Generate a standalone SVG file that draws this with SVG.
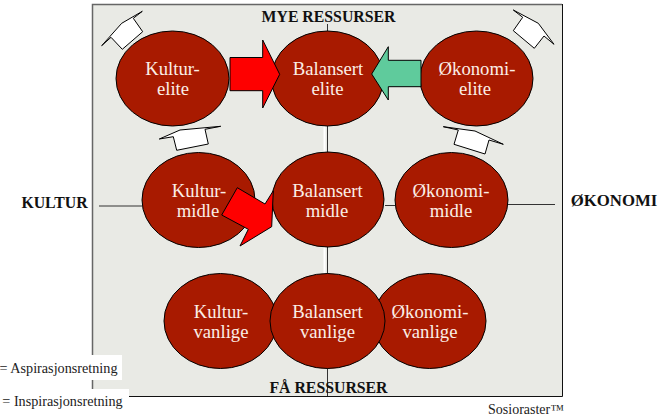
<svg xmlns="http://www.w3.org/2000/svg" width="666" height="419" viewBox="0 0 666 419">
<style>
text{font-family:"Liberation Serif","DejaVu Serif",serif;text-anchor:middle}
.n ellipse{fill:#a81a00;stroke:#000;stroke-width:1}
.n text{fill:#fbeee6;font-size:18.700px}
.c{fill:#fff;stroke:#000;stroke-width:1}
.l{stroke:#333;stroke-width:1;fill:none}
.h{font-weight:bold;font-size:15.800px;fill:#111}
.w{font-weight:bold;font-size:16.800px;fill:#111}
.s{font-size:14.200px;fill:#222}
</style>
<rect width="666" height="419" fill="#fff"/>
<rect x="92.500" y="4.500" width="470" height="392" fill="#e9eae5"/>
<path d="M92.500 396V4.500H562" fill="none" stroke="#666" stroke-width="1.500"/>
<path d="M562.500 4V396.500H92" fill="none" stroke="#111" stroke-width="1"/>
<g id="connectors">
<rect x="323.500" y="126" width="2" height="27" fill="#fff"/>
<rect x="323.500" y="247" width="2" height="27" fill="#fff"/>
<path class="l" d="M327.500 24V396M99 206H142M385 205.500H395M508 204.500H555"/>
</g>
<g id="kultur-elite" class="n"><ellipse cx="172.500" cy="78.500" rx="56.500" ry="47.500"/><text><tspan x="172.500" y="75">Kultur-</tspan><tspan x="173" y="95">elite</tspan></text></g>
<g id="balansert-elite" class="n"><ellipse cx="327.500" cy="78.500" rx="56" ry="47.500"/><text><tspan x="328" y="75">Balansert</tspan><tspan x="327.500" y="95">elite</tspan></text></g>
<g id="okonomi-elite" class="n"><ellipse cx="476.500" cy="78.500" rx="56.500" ry="47.500"/><text><tspan x="477" y="75">Økonomi-</tspan><tspan x="475" y="95">elite</tspan></text></g>
<g id="kultur-midle" class="n"><ellipse cx="198.500" cy="200" rx="56.500" ry="47.500"/><text><tspan x="199" y="197">Kultur-</tspan><tspan x="198" y="217">midle</tspan></text></g>
<g id="balansert-midle" class="n"><ellipse cx="328" cy="199.500" rx="56" ry="47.500"/><text><tspan x="327.500" y="197">Balansert</tspan><tspan x="327" y="217">midle</tspan></text></g>
<g id="okonomi-midle" class="n"><ellipse cx="451.500" cy="200" rx="56.500" ry="47.500"/><text><tspan x="451" y="197">Økonomi-</tspan><tspan x="451" y="217">midle</tspan></text></g>
<g id="kultur-vanlige" class="n"><ellipse cx="220.500" cy="321" rx="56.500" ry="47.500"/><text><tspan x="221" y="318">Kultur-</tspan><tspan x="221" y="338">vanlige</tspan></text></g>
<g id="okonomi-vanlige" class="n"><ellipse cx="429.500" cy="321" rx="56.500" ry="47.500"/><text><tspan x="430" y="318">Økonomi-</tspan><tspan x="430" y="338">vanlige</tspan></text></g>
<g id="balansert-vanlige" class="n"><ellipse cx="327.500" cy="321" rx="57.500" ry="47.500"/><text><tspan x="327.500" y="318">Balansert</tspan><tspan x="327.500" y="338">vanlige</tspan></text></g>
<g id="arrows" stroke="#000" stroke-width="1">
<polygon fill="#fe0000" points="230,57.500 262.700,57.500 262.700,40 279.700,74.300 262.700,108 262.700,90.700 230,90.700"/>
<polygon fill="#5fcb9c" points="371.700,74 388.300,46.700 388.300,60.300 421,60.300 421,86.700 388.300,86.700 388.300,100"/>
<polygon fill="#fe0000" points="221.700,215 237.300,187.700 265,204 273.300,190.700 271.700,226.700 240,246 248.300,229.300"/>
</g>
<g id="caps">
<polygon class="c" points="142.300,11.300 133.300,18.300 142.700,31.700 122.300,49.300 111,37.300 101.700,45.700 121.700,23.300"/>
<polygon class="c" points="220.700,126.300 205,129.300 208.300,144 176.700,150.300 173.300,136.700 159.300,139 180,130"/>
<polygon class="c" points="513.300,10 522.700,17.300 513.300,30.700 534.300,48.300 544,36 554,44.300 538.300,23.300"/>
<polygon class="c" points="443.300,126.700 458.300,130 454,144.300 485,154 489,140 503.300,144.300 475,131"/>
</g>
<text class="h" x="328.500" y="22">MYE RESSURSER</text>
<text class="h" x="328.500" y="393">FÅ RESSURSER</text>
<text class="h" x="54.500" y="208">KULTUR</text>
<text class="w" x="614" y="205.500">ØKONOMI</text>
<g id="legend">
<rect x="0" y="355" width="122" height="25" fill="#fff"/>
<rect x="0" y="389" width="129" height="24" fill="#fff"/>
<text class="s" x="58.500" y="373">= Aspirasjonsretning</text>
<text class="s" x="62.500" y="406">= Inspirasjonsretning</text>
</g>
<text x="526" y="414" style="font-size:14px;fill:#222">Sosioraster™</text>
</svg>
